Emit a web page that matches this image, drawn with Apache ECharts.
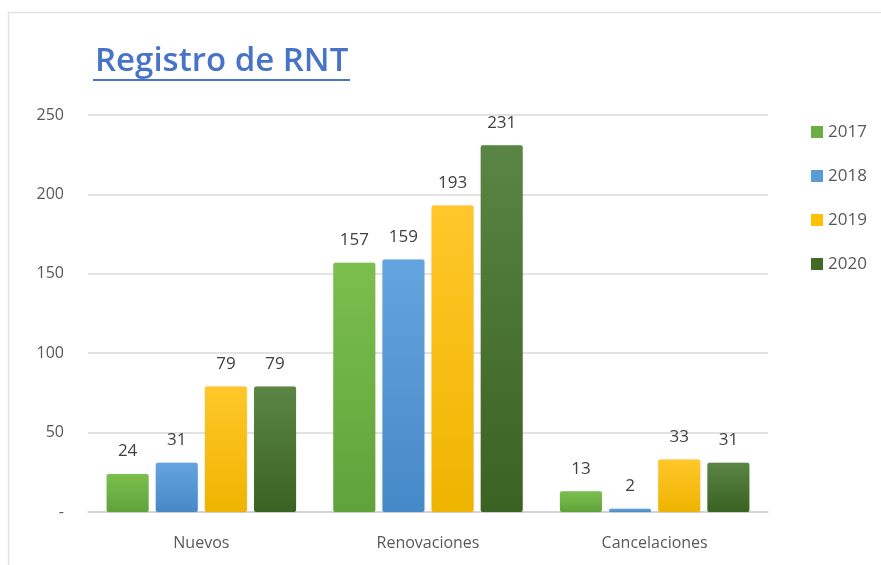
<!DOCTYPE html>
<html style="height: 100%">
    <head>
        <meta charset="utf-8">
    </head>
    <body style="height: 100%; margin: 0; background: #fff">
        <div id="container" style="height: 100%"></div>

        <script type="text/javascript" src="https://cdn.jsdelivr.net/npm/echarts@6/dist/echarts.min.js"></script>
        <script type="text/javascript">
var categories = ['Nuevos', 'Renovaciones', 'Cancelaciones'];
var years = ['2017', '2018', '2019', '2020'];
var values2017 = [24, 157, 13];
var values2018 = [31, 159, 2];
var values2019 = [79, 193, 33];
var values2020 = [79, 231, 31];

var dom = document.getElementById("container");
var myChart = echarts.init(dom);

// top / bottom colours of each year's bars
var barColors = [
    ['#7cbf4e', '#5fa23a'],
    ['#64a4de', '#4689c8'],
    ['#ffc72a', '#efb400'],
    ['#5a8545', '#3a6222']
];
var legendColors = ['#6aaf45', '#5b9bd5', '#ffc000', '#3f6b27'];

function grad(c) {
    return new echarts.graphic.LinearGradient(0, 0, 0, 1, [
        { offset: 0, color: c[0] },
        { offset: 1, color: c[1] }
    ]);
}

var seriesData = [values2017, values2018, values2019, values2020];
var series = seriesData.map(function (vals, i) {
    return {
        name: years[i],
        type: 'bar',
        data: vals,
        barWidth: 42,
        barGap: '17%',
        itemStyle: {
            color: grad(barColors[i]),
            borderRadius: 2,
            shadowColor: 'rgba(0,0,0,0.12)',
            shadowBlur: 2
        },
        label: {
            show: true,
            position: 'top',
            distance: 14,
            color: '#404040',
            fontSize: 17,
            fontFamily: 'Open Sans'
        }
    };
});

var option = {
    backgroundColor: '#fff',
    animation: false,
    title: {
        text: 'Registro de RNT',
        left: 90,
        top: 40,
        textStyle: {
            color: '#4874c8',
            fontSize: 33,
            fontWeight: 600,
            fontFamily: 'Open Sans'
        }
    },
    graphic: [
        {
            type: 'rect',
            shape: { x: 8.5, y: 12.5, width: 900, height: 600 },
            style: { fill: 'none', stroke: '#e2e2e2', lineWidth: 1.5 },
            silent: true
        },
        {
            type: 'line',
            shape: { x1: 93, y1: 80, x2: 350, y2: 80 },
            style: { stroke: '#4874c8', lineWidth: 2 },
            silent: true
        }
    ],
    legend: {
        orient: 'vertical',
        left: 806,
        top: 115,
        itemGap: 20,
        itemWidth: 12,
        itemHeight: 12,
        icon: 'rect',
        textStyle: {
            color: '#595959',
            fontSize: 17,
            lineHeight: 24,
            fontFamily: 'Open Sans'
        },
        data: years.map(function (y, i) {
            return { name: y, itemStyle: { color: legendColors[i] } };
        })
    },
    grid: {
        left: 88,
        right: 113,
        top: 115,
        bottom: 53
    },
    xAxis: {
        type: 'category',
        data: categories,
        axisTick: { show: false },
        axisLine: { lineStyle: { color: '#d0d0d0', width: 1.5 } },
        axisLabel: {
            color: '#595959',
            fontSize: 16,
            margin: 23,
            fontFamily: 'Open Sans'
        }
    },
    yAxis: {
        type: 'value',
        min: 0,
        max: 250,
        interval: 50,
        axisLine: { show: false },
        axisTick: { show: false },
        splitLine: { lineStyle: { color: '#dadada', width: 1.5 } },
        axisLabel: {
            color: '#595959',
            fontSize: 16,
            margin: 24,
            fontFamily: 'Open Sans',
            formatter: function (v) { return v === 0 ? '-' : v; }
        }
    },
    series: series
};

myChart.setOption(option);
        </script>
    </body>
</html>
